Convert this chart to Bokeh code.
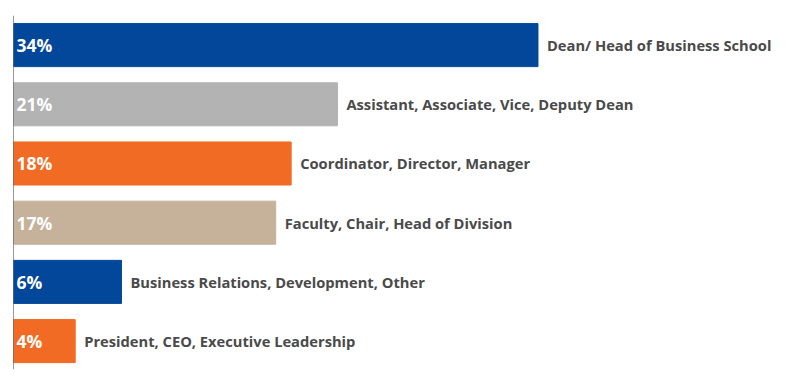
from bokeh.plotting import figure
from bokeh.models import ColumnDataSource, Range1d, Span
from bokeh.core.properties import value
from bokeh.embed import file_html
from bokeh.resources import INLINE

categories = ["Dean/ Head of Business School",
              "Assistant, Associate, Vice, Deputy Dean",
              "Coordinator, Director, Manager",
              "Faculty, Chair, Head of Division",
              "Business Relations, Development, Other",
              "President, CEO, Executive Leadership"]
values = [34, 21, 18, 17, 7, 4]
pct_labels = ["34%", "21%", "18%", "17%", "6%", "4%"]
colors = ["#03479a", "#b3b3b3", "#f26b24", "#c6b29a", "#03479a", "#f26b24"]

ypos = list(range(len(categories)))
src = ColumnDataSource(dict(y=ypos, v=values, cat=categories, pct=pct_labels,
                            color=colors, zero=[0] * len(values)))

p = figure(width=792, height=370, output_backend="svg", toolbar_location=None,
           x_range=Range1d(0, 50.5), y_range=Range1d(5.48, -0.5),
           min_border_left=13, min_border_right=0, min_border_top=15, min_border_bottom=1)
p.axis.visible = False
p.grid.visible = False
p.outline_line_color = None

p.hbar(y="y", left=0, right="v", height=0.727, color="color", source=src)
p.add_layout(Span(location=0, dimension="height", line_color="#333333", line_width=1))

p.text(x="zero", y="y", text="pct", source=src, x_offset=3,
       text_font=value("Open Sans"), text_font_style="bold", text_font_size="17.5px",
       text_color="white", text_baseline="middle", text_align="left")
p.text(x="v", y="y", text="cat", source=src, x_offset=9,
       text_font=value("Open Sans"), text_font_style="bold", text_font_size="14.7px",
       text_color="#4a4a4a", text_baseline="middle", text_align="left")

open("out.html", "w").write(file_html(p, INLINE))
